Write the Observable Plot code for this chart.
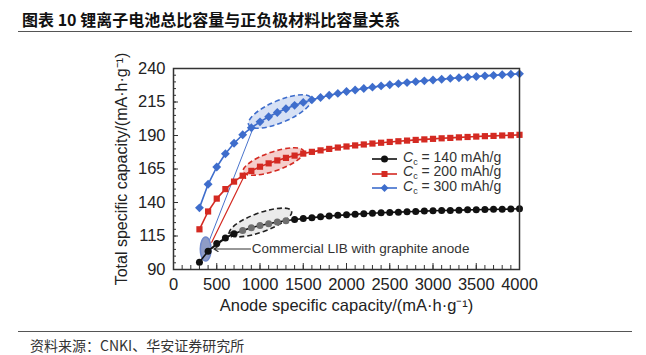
<!DOCTYPE html>
<html><head><meta charset="utf-8">
<script src="https://cdn.jsdelivr.net/npm/d3@7"></script>
<script src="https://cdn.jsdelivr.net/npm/@observablehq/plot@0.6"></script>
<style>
body{margin:0;background:#fff;}
#wrap{position:relative;width:646px;height:355px;background:#fff;overflow:hidden;font-family:"Liberation Sans",Arial,sans-serif;}
#title{position:absolute;left:22px;top:7px;font-family:"Noto Sans CJK SC",sans-serif;font-weight:bold;font-size:16px;color:#111;white-space:nowrap;}
#tline{position:absolute;left:18px;top:31px;width:614px;border-top:1.5px solid #555;}
#bline{position:absolute;left:18px;top:331px;width:614px;border-top:1.5px solid #555;}
#source{position:absolute;left:30px;top:335px;font-family:"Noto Sans CJK SC",sans-serif;font-size:14px;color:#333;white-space:nowrap;}
#chart{position:absolute;left:0;top:40px;}
#legend{position:absolute;left:372px;top:152px;font-size:14px;color:#333;}
.row{height:14.5px;line-height:14.5px;display:flex;align-items:center;white-space:nowrap;}
.row svg{margin-right:6px;}
.row sub{font-size:9px;vertical-align:-3px;}
</style></head>
<body><div id="wrap">
<div id="title">图表 10 锂离子电池总比容量与正负极材料比容量关系</div>
<div id="tline"></div>
<div id="chart"></div>
<div id="legend"></div>
<div id="bline"></div>
<div id="source">资料来源：CNKI、华安证券研究所</div>
</div>
<script>
// ---- data ----
const anode = [300,400,500,600,700,800,900,1000,1100,1200,1300,1400,1500,1600,1700,1800,1900,2000,2100,2200,2300,2400,2500,2600,2700,2800,2900,3000,3100,3200,3300,3400,3500,3600,3700,3800,3900,4000];
const cap140 = [95.5,103.7,109.4,113.5,116.7,119.1,121.2,122.8,124.2,125.4,126.4,127.3,128.0,128.7,129.3,129.9,130.4,130.8,131.3,131.6,132.0,132.3,132.6,132.8,133.1,133.3,133.6,133.8,134.0,134.1,134.3,134.5,134.6,134.8,134.9,135.0,135.1,135.3];
const cap200 = [120.0,133.3,142.9,150.0,155.6,160.0,163.6,166.7,169.2,171.4,173.3,175.0,176.5,177.8,178.9,180.0,181.0,181.8,182.6,183.3,184.0,184.6,185.2,185.7,186.2,186.7,187.1,187.5,187.9,188.2,188.6,188.9,189.2,189.5,189.7,190.0,190.2,190.5];
const cap300 = [136.0,153.6,166.5,176.4,184.2,190.6,195.8,200.2,204.0,207.2,210.0,212.5,214.7,216.6,218.4,220.0,221.4,222.8,224.0,225.1,226.1,227.0,227.9,228.7,229.5,230.2,230.8,231.4,232.0,232.6,233.1,233.6,234.0,234.5,234.9,235.3,235.7,236.0];
const seriesNames = ["140","200","300"];
const xTicks = [0,500,1000,1500,2000,2500,3000,3500,4000];
const yTicks = [90,115,140,165,190,215,240];
const grayRange = [800,1300];
const xTitle = "Anode specific capacity/(mA·h·g⁻¹)";
const yTitle = "Total specific capacity/(mA·h·g⁻¹)";
const libLabel = "Commercial LIB with graphite anode";
// annotation ellipses: center in data units
const ellipseCx = [1231, 1156, 1006];
const ellipseCy = [207.9, 170.6, 125.1];
const libPoint = {x: 372, y: 105.3};
const libText = {x: 905, y: 105.3};

const colors = {"140":"#111111","200":"#d42a22","300":"#3e6dcc"};
const symbols = {"140":"circle","200":"square","300":"diamond2"};
const caps = {"140":cap140,"200":cap200,"300":cap300};

const rows = (name) => anode.map((x,i)=>({x, y: caps[name][i]}));

function ellipseSymbol(ratio){
  return {draw(ctx, size){
    const a = Math.sqrt(size/Math.PI), b = a*ratio, k = 0.5523;
    ctx.moveTo(a,0);
    ctx.bezierCurveTo(a,k*b,k*a,b,0,b);
    ctx.bezierCurveTo(-k*a,b,-a,k*b,-a,0);
    ctx.bezierCurveTo(-a,-k*b,-k*a,-b,0,-b);
    ctx.bezierCurveTo(k*a,-b,a,-k*b,a,0);
    ctx.closePath();
  }};
}
const ellStyle = [
  {a:34,b:11,rot:-23,fill:"#cddaf2",stroke:"#3e6dcc"},
  {a:32,b:9.5,rot:-19,fill:"#f3c2be",stroke:"#d42a22"},
  {a:33,b:9.5,rot:-20,fill:"#e6e6e6",stroke:"#222"}
];
const ellipseMarks = ellipseCx.map((cx,i)=>Plot.dot([{x:cx,y:ellipseCy[i]}],{x:"x",y:"y",r:ellStyle[i].a,rotate:ellStyle[i].rot,symbol:ellipseSymbol(ellStyle[i].b/ellStyle[i].a),fill:ellStyle[i].fill,fillOpacity:0.8,stroke:ellStyle[i].stroke,strokeWidth:1.6,strokeDasharray:"5,3"}));

const xMinor = [];
for (let v=0; v<=4000; v+=100) xMinor.push(v);
const yMinor = [];
for (let v=90; v<=240; v+=5) yMinor.push(v);

const seriesMarks = seriesNames.flatMap(n=>[
  Plot.line(rows(n),{x:"x",y:"y",stroke:colors[n],strokeWidth:1.6}),
  Plot.dot(rows(n),{x:"x",y:"y",symbol:symbols[n],r:n==="300"?4:3.5,fill: n==="140" ? (d=> d.x>=grayRange[0]&&d.x<=grayRange[1] ? "#6e6e6e" : "#111") : colors[n],stroke:"none"})
]);

const leaders = [
  {x1:libPoint.x+40,y1:libPoint.y+6,x2:920,y2:195.5,c:"#4a74cc"},
];
const arrows = [
  {x1:libPoint.x+70,y1:libPoint.y+5,x2:830,y2:161.5,c:"#d42a22"},
  {x1:libPoint.x+75,y1:libPoint.y+0.5,x2:690,y2:117.5,c:"#222"},
  {x1:libText.x-15,y1:libText.y,x2:libPoint.x+95,y2:libText.y,c:"#333"}
];

const chart = Plot.plot({
  width:646, height:290,
  marginTop:28, marginBottom:61, marginLeft:173, marginRight:127,
  x:{domain:[0,4000]},
  y:{domain:[90,240]},
  style:{fontFamily:"'Liberation Sans',Arial,sans-serif",fontSize:"16.5px",color:"#222",background:"transparent",overflow:"visible"},
  marks:[
    ...ellipseMarks,
    Plot.link(leaders,{x1:"x1",y1:"y1",x2:"x2",y2:"y2",stroke:"c",strokeWidth:1}),
    Plot.arrow(arrows,{x1:"x1",y1:"y1",x2:"x2",y2:"y2",stroke:"c",strokeWidth:1.2,headLength:6}),
    Plot.dot([libPoint],{x:"x",y:"y",r:12,rotate:90,symbol:ellipseSymbol(0.45),fill:"#8f9cc6",stroke:"#6f88cc",strokeWidth:1.5}),
    ...seriesMarks,
    Plot.text([libLabel],{x:libText.x,y:libText.y,text:d=>d,textAnchor:"start",fontSize:13.5,fill:"#333"}),
    Plot.tickX(xMinor,{x:d=>d,insetTop:197,stroke:"#333"}),
    Plot.tickX(xTicks,{x:d=>d,insetTop:195,stroke:"#333"}),
    Plot.tickY(yMinor,{y:d=>d,insetRight:343,stroke:"#333"}),
    Plot.tickY(yTicks,{y:d=>d,insetRight:341,stroke:"#333"}),
    Plot.frame({stroke:"#333",strokeWidth:1.5}),
    Plot.axisX({ticks:xTicks,tickSize:0,tickPadding:9,tickFormat:d=>String(d),label:null}),
    Plot.axisY({ticks:yTicks,tickSize:0,tickPadding:8,tickFormat:d=>String(d),label:null}),
    Plot.text([xTitle],{frameAnchor:"bottom",dy:41,text:d=>d,textAnchor:"middle",fontSize:16.5,fill:"#222"}),
    Plot.text([yTitle],{frameAnchor:"left",dx:-52,rotate:-90,text:d=>d,textAnchor:"middle",fontSize:16,fill:"#222"})
  ]
});
document.getElementById("chart").appendChild(chart);

// legend
const leg = document.getElementById("legend");
seriesNames.forEach(n=>{
  const row = document.createElement("div");
  row.className="row";
  const shape = n==="140" ? `<circle cx="12.5" cy="5" r="3.5" fill="${colors[n]}"/>`
    : n==="200" ? `<rect x="9.5" y="2" width="6" height="6" fill="${colors[n]}"/>`
    : `<path d="M12.5 1L16.5 5L12.5 9L8.5 5Z" fill="${colors[n]}"/>`;
  row.innerHTML = `<svg width="25" height="10"><line x1="0" y1="5" x2="25" y2="5" stroke="${colors[n]}" stroke-width="1.6"/>${shape}</svg><span><i>C</i><sub>c</sub> = ${n} mAh/g</span>`;
  leg.appendChild(row);
});
</script>
</body></html>
